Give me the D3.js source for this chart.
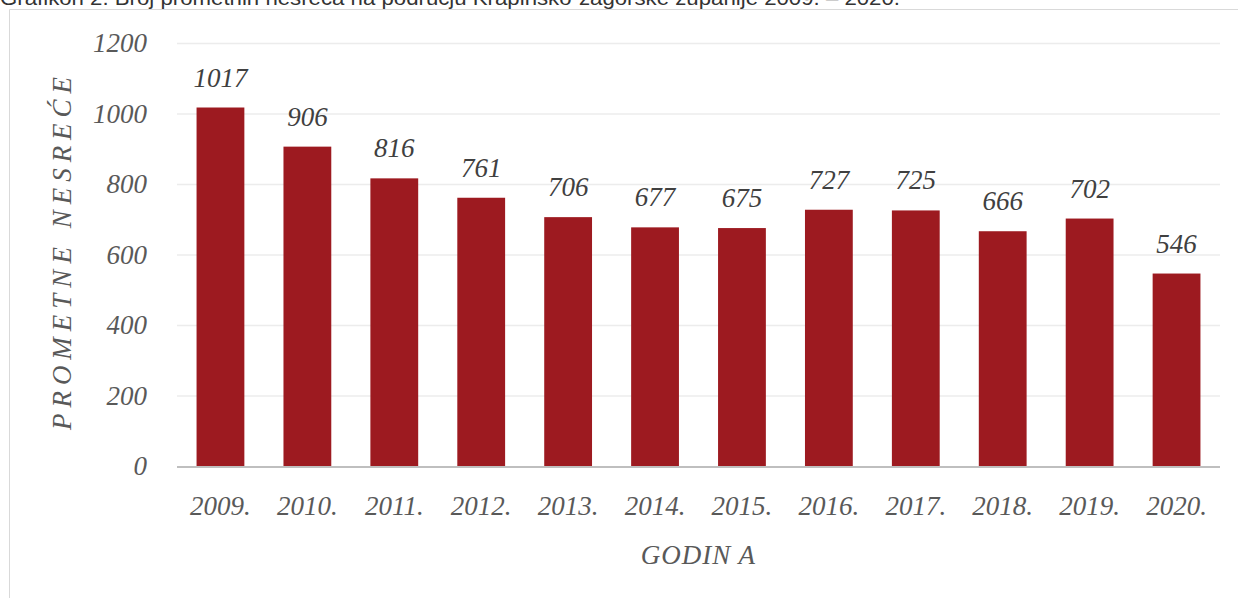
<!DOCTYPE html>
<html lang="hr">
<head>
<meta charset="UTF-8">
<title>Broj prometnih nesreća</title>
<script src="https://d3js.org/d3.v7.min.js"></script>
<style>
  body { margin: 0; background: #fff; }
  svg { display: block; }
  .serif { font-family: "Liberation Serif", "DejaVu Serif", serif; font-style: italic; }
</style>
</head>
<body>
<svg id="chart" width="1238" height="598"></svg>
<script>
const years = ["2009.", "2010.", "2011.", "2012.", "2013.", "2014.", "2015.", "2016.", "2017.", "2018.", "2019.", "2020."];
const accidents = [1017, 906, 816, 761, 706, 677, 675, 727, 725, 666, 702, 546];
const yTicks = [0, 200, 400, 600, 800, 1000, 1200];

const svg = d3.select("#chart");
const margin = { left: 177, right: 18, top: 43, bottom: 132 };
const W = 1238, H = 598;

// caption, cut off at the top like in the source
svg.append("text")
  .attr("x", 0).attr("y", 5)
  .attr("font-family", "Liberation Sans, Arial, sans-serif")
  .attr("font-size", 20)
  .attr("fill", "#333")
  .attr("textLength", 900)
  .attr("lengthAdjust", "spacingAndGlyphs")
  .text("Grafikon 2. Broj prometnih nesreća na području Krapinsko-zagorske županije 2009. – 2020.");

// chart frame (left + top)
svg.append("path")
  .attr("d", `M9.5,598 V9.5 H${W}`)
  .attr("fill", "none").attr("stroke", "#d9d9d9").attr("stroke-width", 1);

const x = d3.scaleBand().domain(years).range([margin.left, W - margin.right]).paddingInner(0.45).paddingOuter(0.225);
const y = d3.scaleLinear().domain([0, 1200]).range([H - margin.bottom, margin.top]);

// gridlines
svg.append("g")
  .selectAll("line").data(yTicks.slice(1)).join("line")
  .attr("x1", margin.left).attr("x2", W - margin.right)
  .attr("y1", d => y(d) + 0.5).attr("y2", d => y(d) + 0.5)
  .attr("stroke", "#ececec").attr("stroke-width", 1.5);

// y axis labels
const yAxis = svg.append("g")
  .attr("transform", `translate(${margin.left - 30},0)`)
  .call(d3.axisLeft(y).tickValues(yTicks).tickFormat(d3.format("d")).tickSize(0).tickPadding(0));
yAxis.select(".domain").remove();
yAxis.selectAll("text")
  .attr("class", "serif").attr("font-size", 27).attr("fill", "#595959").attr("dy", "0.32em");

// bars
svg.append("g").selectAll("rect").data(accidents).join("rect")
  .attr("x", (d, i) => x(years[i]))
  .attr("y", d => y(d))
  .attr("width", x.bandwidth())
  .attr("height", d => y(0) - y(d))
  .attr("fill", "#9d1a20");

// baseline
svg.append("line")
  .attr("x1", margin.left).attr("x2", W - margin.right)
  .attr("y1", y(0) + 1).attr("y2", y(0) + 1)
  .attr("stroke", "#bfbfbf").attr("stroke-width", 2);

// value labels
svg.append("g").selectAll("text").data(accidents).join("text")
  .attr("class", "serif")
  .attr("x", (d, i) => x(years[i]) + x.bandwidth() / 2)
  .attr("y", d => y(d) - 21)
  .attr("text-anchor", "middle")
  .attr("font-size", 27).attr("fill", "#404040")
  .text(d => d);

// x axis labels
const xAxis = svg.append("g")
  .attr("transform", `translate(0,${y(0) + 30})`)
  .call(d3.axisBottom(x).tickSize(0).tickPadding(0));
xAxis.select(".domain").remove();
xAxis.selectAll("text")
  .attr("class", "serif").attr("font-size", 27).attr("fill", "#595959").attr("dy", "0.71em");

// axis titles
svg.append("text")
  .attr("class", "serif")
  .attr("x", (margin.left + W - margin.right) / 2)
  .attr("y", 564)
  .attr("text-anchor", "middle")
  .attr("font-size", 27).attr("fill", "#595959")
  .attr("letter-spacing", 1)
  .text("GODIN A");

svg.append("text")
  .attr("class", "serif")
  .attr("transform", `translate(71,${(y(0) + y(1200)) / 2 - 4}) rotate(-90)`)
  .attr("text-anchor", "middle")
  .attr("font-size", 27).attr("fill", "#595959")
  .attr("letter-spacing", 6)
  .text("PROMETNE  NESREĆE");
</script>
</body>
</html>
